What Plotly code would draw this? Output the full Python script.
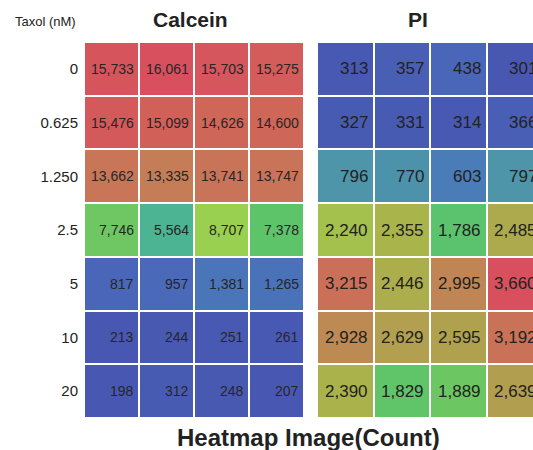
import plotly.graph_objects as go

doses = ["0", "0.625", "1.250", "2.5", "5", "10", "20"]
wells = [1, 2, 3, 4]

calcein = [
    [15733, 16061, 15703, 15275],
    [15476, 15099, 14626, 14600],
    [13662, 13335, 13741, 13747],
    [7746, 5564, 8707, 7378],
    [817, 957, 1381, 1265],
    [213, 244, 251, 261],
    [198, 312, 248, 207],
]
pi = [
    [313, 357, 438, 301],
    [327, 331, 314, 366],
    [796, 770, 603, 797],
    [2240, 2355, 1786, 2485],
    [3215, 2446, 2995, 3660],
    [2928, 2629, 2595, 3192],
    [2390, 1829, 1889, 2639],
]

cscale = [
    [0.00, "#4858b2"], [0.04, "#4a66b8"], [0.09, "#4a7cb8"], [0.15, "#4e96a8"],
    [0.34, "#4cb492"], [0.45, "#5cc46a"], [0.54, "#9cd04e"], [0.60, "#a8b84a"],
    [0.68, "#b0a24e"], [0.80, "#bf8654"], [0.86, "#ca7258"], [0.93, "#d06258"],
    [1.00, "#d8505e"],
]

W, H = 533, 450
sans = "Liberation Sans, Arial, Helvetica, sans-serif"
CELL = 55    # px width of one Calcein column
CELL2 = 56.5  # px width of one PI column

fig = go.Figure()
xs = list(range(len(wells)))
ys = list(range(len(doses)))

def flat(m):
    return [v for r in m for v in r]

fig.add_trace(go.Heatmap(
    z=calcein, x=xs, y=ys, colorscale=cscale,
    zmin=min(flat(calcein)), zmax=max(flat(calcein)),
    xgap=2, ygap=2, showscale=False, xaxis="x", yaxis="y", hoverinfo="z"))
fig.add_trace(go.Heatmap(
    z=pi, x=xs, y=ys, colorscale=cscale,
    zmin=min(flat(pi)), zmax=max(flat(pi)),
    xgap=2, ygap=2, showscale=False, xaxis="x2", yaxis="y2", hoverinfo="z"))

ann = []
for i in ys:
    for j in xs:
        ann.append(dict(x=j, y=i, xref="x", yref="y", text=f"{calcein[i][j]:,}",
                        showarrow=False, xanchor="right", yanchor="middle", xshift=CELL / 2 - 3,
                        font=dict(family=sans, size=14, color="#262626")))
        ann.append(dict(x=j, y=i, xref="x2", yref="y2", text=f"{pi[i][j]:,}",
                        showarrow=False, xanchor="right", yanchor="middle", xshift=CELL2 / 2 - 4,
                        font=dict(family=sans, size=17, color="#222222")))

def label(text, xpx, ypx, size):
    return dict(x=xpx / W, y=1 - ypx / H, xref="paper", yref="paper", text=text,
                showarrow=False, xanchor="center", yanchor="middle",
                font=dict(family=sans, size=size, color="#222"))

ann += [
    label("<b>Calcein</b>", 190, 19, 21),
    label("<b>PI</b>", 418, 19, 21),
    label("Taxol (nM)", 45, 22, 13),
    label("<b>Heatmap Image(Count)</b>", 308, 437, 24),
]

ydom = [1 - 418 / H, 1 - 42 / H]
fig.update_layout(
    width=W, height=H, autosize=False,
    margin=dict(l=0, r=0, t=0, b=0),
    paper_bgcolor="white", plot_bgcolor="white",
    xaxis=dict(domain=[84 / W, 304 / W], range=[-0.5, 3.5], visible=False, fixedrange=True),
    yaxis=dict(domain=ydom, range=[6.5, -0.5], tickvals=ys, ticktext=doses,
               showgrid=False, zeroline=False, showline=False, ticks="",
               ticklabelstandoff=5,
               tickfont=dict(family=sans, size=15, color="#222")),
    xaxis2=dict(domain=[317 / W, 1.0], range=[-0.5, -0.5 + 216 / CELL2], visible=False, fixedrange=True),
    yaxis2=dict(domain=ydom, range=[6.5, -0.5], anchor="x2", visible=False),
    annotations=ann,
    showlegend=False,
)

fig.write_html("out.html", config={"displayModeBar": False},
               post_script="document.body.style.margin='0';document.body.style.overflow='hidden';")
